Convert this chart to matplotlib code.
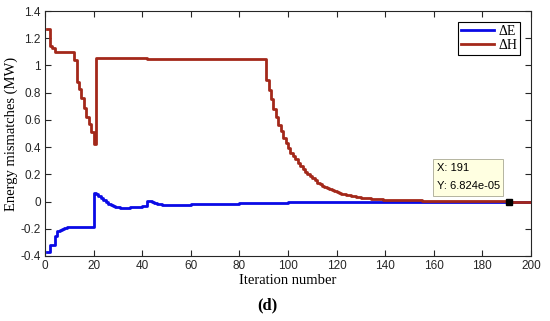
import matplotlib
matplotlib.use("Agg")
import matplotlib.pyplot as plt
from matplotlib.patches import Rectangle

# ---- data (change points of stair series) ----
dE_iter = [1, 2, 3, 4, 5, 6, 7, 8, 9, 10, 19,
           20, 21, 22, 23, 24, 25, 26, 27, 28, 29, 30, 31, 33, 34, 35, 36, 37, 38, 39, 40, 41,
           42, 43, 44, 45, 46, 47, 48, 50, 55, 60, 70, 80, 90, 100, 110, 120, 130, 200]
dE_val = [-0.37, -0.32, -0.32, -0.25, -0.22, -0.21, -0.20, -0.195, -0.19, -0.19, -0.19,
          0.065, 0.055, 0.04, 0.025, 0.01, -0.005, -0.015, -0.025, -0.032, -0.038, -0.042, -0.045,
          -0.045, -0.044, -0.043, -0.042, -0.040, -0.039, -0.037, -0.036, -0.035,
          0.005, 0.003, -0.005, -0.012, -0.017, -0.020, -0.022, -0.023, -0.022, -0.020,
          -0.015, -0.010, -0.008, -0.006, -0.003, -0.001, 0.0, 0.0]

dH_iter = [1, 2, 3, 4, 12, 13, 14, 15, 16, 17, 18, 19, 20, 21, 42, 90,
           91, 92, 93, 94, 95, 96, 97, 98, 99, 100, 101, 102, 103, 104, 105, 106, 107, 108, 109, 110,
           111, 112, 113, 114, 115, 116, 117, 118, 119, 120, 121, 122, 123, 124, 125, 126, 127, 128,
           129, 130, 131, 132, 133, 134, 135, 136, 137, 138, 139, 140, 142, 144, 146, 148, 150,
           155, 160, 170, 180, 191, 200]
dH_val = [1.27, 1.14, 1.13, 1.10, 1.04, 0.88, 0.83, 0.76, 0.69, 0.62, 0.57, 0.51, 0.42, 1.055, 1.045, 1.045,
          0.89, 0.82, 0.75, 0.68, 0.62, 0.565, 0.515, 0.47, 0.43, 0.395, 0.36, 0.335, 0.31, 0.285, 0.26,
          0.24, 0.22, 0.20, 0.185, 0.17, 0.155, 0.14, 0.128, 0.117, 0.107, 0.098, 0.09, 0.082, 0.075,
          0.069, 0.063, 0.058, 0.053, 0.049, 0.045, 0.041, 0.038, 0.035, 0.032, 0.029, 0.027, 0.025,
          0.023, 0.021, 0.019, 0.018, 0.017, 0.016, 0.015, 0.014, 0.013, 0.012, 0.011, 0.010, 0.009,
          0.006, 0.004, 0.002, 0.001, 6.824e-05, 5e-05]

tip_x = 191
tip_y = 6.824e-05
xticks = [0, 20, 40, 60, 80, 100, 120, 140, 160, 180, 200]
yticks = [-0.4, -0.2, 0, 0.2, 0.4, 0.6, 0.8, 1, 1.2, 1.4]
ytick_labels = ["-0.4", "-0.2", "0", "0.2", "0.4", "0.6", "0.8", "1", "1.2", "1.4"]

# ---- figure ----
fig = plt.figure(figsize=(5.5, 3.21), dpi=100)
ax = fig.add_axes([0.0818, 0.2025, 0.8837, 0.7632])

blue = "#0a0ae6"
red = "#a3281a"
ax.plot(dE_iter, dE_val, drawstyle="steps-post", color=blue, lw=2.0, label="ΔE", zorder=3)
ax.plot(dH_iter, dH_val, drawstyle="steps-post", color=red, lw=2.0, label="ΔH", zorder=4)
ax.plot([tip_x], [tip_y], marker="s", color="black", ms=4.5, zorder=6, ls="none")

ax.set_xlim(0, 200)
ax.set_ylim(-0.4, 1.4)
ax.set_xticks(xticks)
ax.set_yticks(yticks)
ax.set_yticklabels(ytick_labels)

sans = ["Liberation Sans", "DejaVu Sans"]
serif = ["Liberation Serif", "DejaVu Serif"]
for lab in ax.get_xticklabels() + ax.get_yticklabels():
    lab.set_fontfamily(sans)
    lab.set_fontsize(8.5)
    lab.set_color("#262626")

ax.tick_params(direction="in", length=4, width=0.8, top=True, right=True, color="#262626", pad=3)
for s in ax.spines.values():
    s.set_color("#262626")
    s.set_linewidth(0.8)

ax.set_xlabel("Iteration number", family=serif, fontsize=10.5, labelpad=1)
ax.set_ylabel("Energy mismatches (MW)", family=serif, fontsize=10.5, labelpad=2)

leg = ax.legend(loc="upper right", prop={"family": serif, "size": 10}, frameon=True,
                fancybox=False, edgecolor="black", framealpha=1, handlelength=2.4,
                borderaxespad=0.8, borderpad=0.2, labelspacing=0.1, handletextpad=0.3)
leg.get_frame().set_linewidth(0.8)

# data tip box
ax.add_patch(Rectangle((159.5, 0.044), 29.1, 0.27, facecolor="#ffffe1", edgecolor="#b4b4a0",
                       lw=0.7, zorder=7))
ax.text(161.2, 0.25, "X: 191", family=sans, fontsize=8, va="center", ha="left", zorder=8)
ax.text(161.2, 0.115, "Y: 6.824e-05", family=sans, fontsize=8, va="center", ha="left", zorder=8)

fig.text(0.487, 0.05, "(d)", family=serif, fontsize=12, fontweight="bold", ha="center", va="center")

fig.savefig("out.png", dpi=100)
